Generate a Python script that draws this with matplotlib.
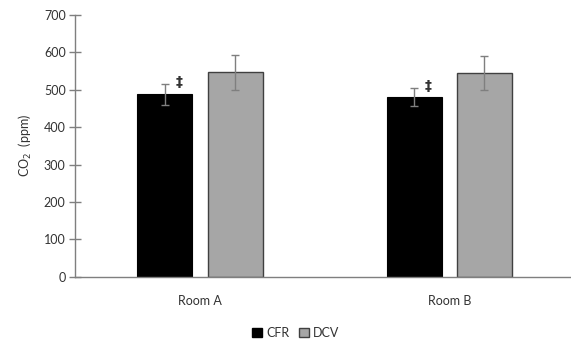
import numpy as np
import matplotlib.pyplot as plt
from matplotlib.patches import Patch

rooms = ['Room A', 'Room B']
cfr_mean = [488, 482]
cfr_err = [28, 24]
dcv_mean = [547, 545]
dcv_err = [47, 46]
series = ['CFR', 'DCV']
marker = '\u2021'

plt.rcParams['font.family'] = ['Lato', 'DejaVu Sans']
txt = '#333333'
axc = '#7f7f7f'

fig = plt.figure(figsize=(5.71, 3.44), dpi=100)
ax = fig.add_axes([0.132, 0.196, 0.873, 0.76])

x = np.arange(len(rooms))
w = 0.221
off = 0.141
ekw = dict(ecolor='#7f7f7f', elinewidth=1.0, capsize=3, capthick=1.0)
ax.bar(x - off, cfr_mean, w, yerr=cfr_err, color='black', edgecolor='black',
       linewidth=0.8, error_kw=ekw, zorder=2)
ax.bar(x + off, dcv_mean, w, yerr=dcv_err, color='#a6a6a6', edgecolor='#404040',
       linewidth=1.0, error_kw=ekw, zorder=2)

for i in range(len(rooms)):
    ax.text(x[i] - off + 0.058, cfr_mean[i] + cfr_err[i] + 4, marker,
            ha='center', va='center', fontsize=10, fontweight='bold',
            family=['DejaVu Sans'], color=txt)

ax.set_xlim(-0.5, 1.5)
ax.set_ylim(0, 700)
ax.set_yticks(range(0, 701, 100))
ax.set_xticks(x)
ax.set_xticklabels(rooms)
ax.tick_params(axis='x', length=0, pad=13, labelsize=9, labelcolor=txt)
ax.tick_params(axis='y', direction='inout', length=8, width=1, color=axc,
               labelsize=9, labelcolor=txt, pad=3)
for s in ['top', 'right']:
    ax.spines[s].set_visible(False)
for s in ['left', 'bottom']:
    ax.spines[s].set_color(axc)
    ax.spines[s].set_linewidth(1.0)

ax.set_ylabel('CO$_2$  (ppm)', fontsize=9, color=txt, labelpad=7)

handles = [Patch(facecolor='black', edgecolor='black'),
           Patch(facecolor='#a6a6a6', edgecolor='#404040')]
fig.legend(handles, series, loc='center', bbox_to_anchor=(0.518, 0.032), ncol=2,
           frameon=False, fontsize=9, handlelength=0.8, handleheight=0.8,
           handletextpad=0.3, columnspacing=0.8, labelcolor=txt)

fig.savefig('out.png', dpi=100)
